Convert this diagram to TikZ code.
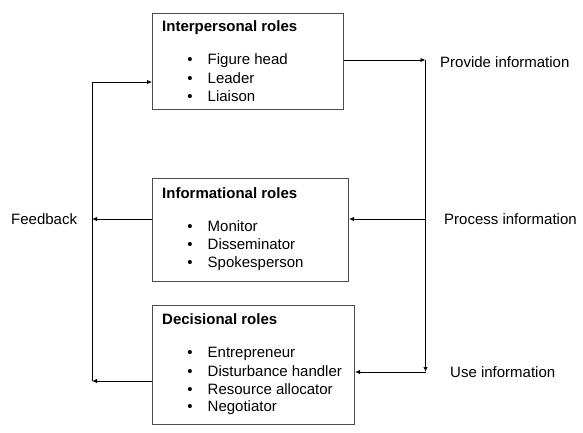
\documentclass[tikz,border=0pt]{standalone}
\usepackage{fontspec}
\setmainfont{Liberation Sans}
\usetikzlibrary{arrows.meta}
\begin{document}
\begin{tikzpicture}[x=1pt,y=-1pt,
  every node/.style={font=\fontsize{15}{18}\selectfont, inner sep=0pt},
  rolebox/.style={draw=black!70, line width=1pt, anchor=north west, inner sep=0pt},
  title/.style={anchor=base west, font=\fontsize{15}{18}\selectfont\bfseries},
  item/.style={anchor=base west},
  bul/.style={anchor=base},
  lbl/.style={anchor=base west},
  conn/.style={line width=0.9pt, draw=black},
  arr/.style={conn, -{Latex[length=5pt,width=4.5pt]}}]
\useasboundingbox (0,0) rectangle (583,433);
% boxes
\node[rolebox, minimum width=191pt, minimum height=96pt] (ip) at (152,13) {};
\node[rolebox, minimum width=196pt, minimum height=103pt] (inf) at (152,178) {};
\node[rolebox, minimum width=202pt, minimum height=119pt] (dec) at (152,305) {};
% box 1
\node[title] (t1) at (162,32) {Interpersonal roles};
\node[bul] (b11) at (190,65) {•}; \node[item] (i11) at (207.5,65) {Figure head};
\node[bul] (b12) at (190,84) {•}; \node[item] (i12) at (207.5,84) {Leader};
\node[bul] (b13) at (190,102) {•}; \node[item] (i13) at (207.5,102) {Liaison};
% box 2
\node[title] (t2) at (162,198) {Informational roles};
\node[bul] (b21) at (190,231) {•}; \node[item] (i21) at (207.5,231) {Monitor};
\node[bul] (b22) at (190,249) {•}; \node[item] (i22) at (207.5,249) {Disseminator};
\node[bul] (b23) at (190,267) {•}; \node[item] (i23) at (207.5,267) {Spokesperson};
% box 3
\node[title] (t3) at (162,324) {Decisional roles};
\node[bul] (b31) at (190,357) {•}; \node[item] (i31) at (207.5,357) {Entrepreneur};
\node[bul] (b32) at (190,376) {•}; \node[item] (i32) at (207.5,376) {Disturbance handler};
\node[bul] (b33) at (190,394) {•}; \node[item] (i33) at (207.5,394) {Resource allocator};
\node[bul] (b34) at (190,411) {•}; \node[item] (i34) at (207.5,411) {Negotiator};
% labels
\node[lbl] (lp) at (440,68) {Provide information};
\node[lbl] (lpc) at (444,224) {Process information};
\node[lbl] (lu) at (450,377) {Use information};
\node[lbl] (lf) at (11,224) {Feedback};
% connector points
\coordinate (pr) at (425.5,60);
\coordinate (pc) at (425.5,219);
\coordinate (ur) at (425.5,372);
\coordinate (fl) at (92,219);
\coordinate (fb) at (92,381);
\coordinate (ft) at (92,82);
% right side
\draw[arr] (ip.east |- pr) -- (pr);
\draw[arr] (pr) -- (ur);
\draw[arr] (ur) -- (dec.east |- ur);
\draw[arr] (pc) -- (inf.east |- pc);
% left side
\draw[arr] (inf.west |- fl) -- (fl);
\draw[arr] (dec.west |- fb) -- (fb);
\draw[arr] (fb) -- (ft) -- (ip.west |- ft);
\end{tikzpicture}
\end{document}
